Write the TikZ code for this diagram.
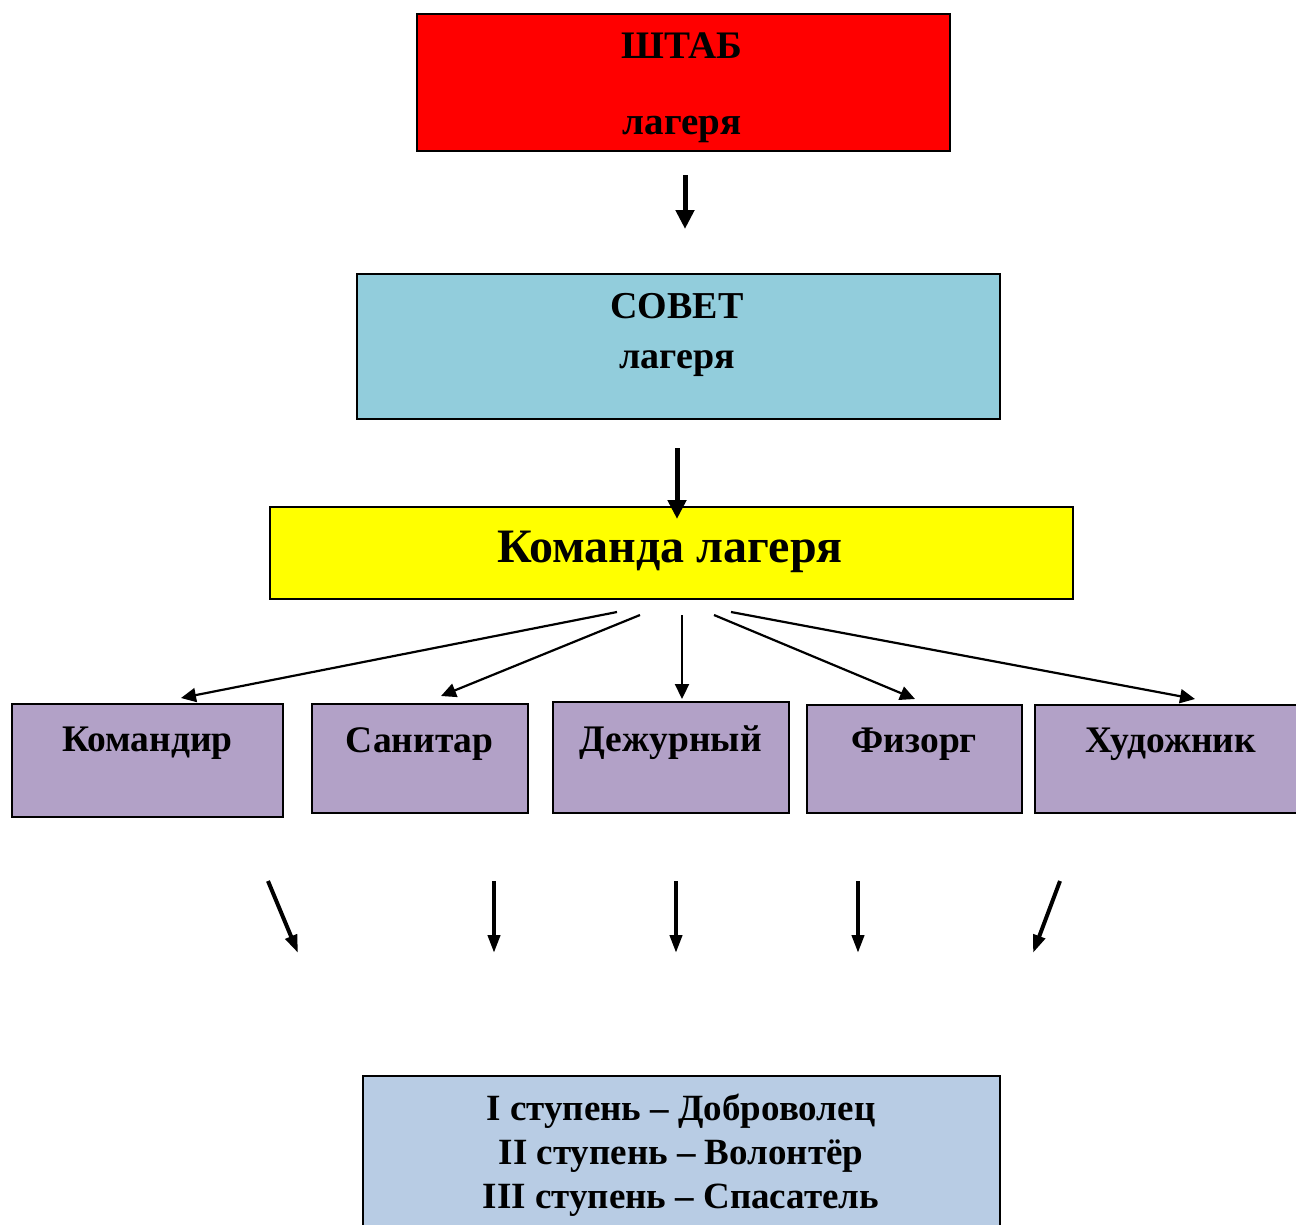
\documentclass[tikz,border=0pt]{standalone}
\usepackage{fontspec}
\setmainfont{Liberation Serif}
\usetikzlibrary{arrows.meta, positioning}
\definecolor{ShtabRed}{RGB}{255, 0, 0}
\definecolor{SovetBlue}{RGB}{146, 205, 220}
\definecolor{KomandaYellow}{RGB}{255, 255, 0}
\definecolor{RolePurple}{RGB}{178, 161, 199}
\definecolor{StepBlue}{RGB}{184, 204, 228}
\newcommand{\boxfont}[2]{\bfseries\fontsize{#1}{#2}\selectfont}

\begin{document}
\begin{tikzpicture}[x=1pt, y=-1pt,
        box/.style={draw=black, line width=1.5pt, inner sep=0pt, anchor=north west},
        boxtext/.style={align=center, inner sep=0pt},
        bigarrow/.style={-{Triangle[width=18pt, length=19pt]}, line width=5pt},
        downarrow/.style={-{Triangle[width=12pt, length=18pt]}, line width=4pt},
        fanarrow/.style={-{Triangle[width=14pt, length=15pt]}, line width=2.2pt}]
        \useasboundingbox (0, 0) rectangle (1296, 1224);

        % Top boxes
        \node[box, fill=ShtabRed, minimum width=533pt, minimum height=137pt] (shtab) at (416, 13) {};
        \node[boxtext, font=\boxfont{39}{39}] (shtabtext) at (682, 88) {ШТАБ\\[37pt]лагеря};

        \node[box, fill=SovetBlue, minimum width=643pt, minimum height=145pt] (sovet) at (356, 273) {};
        \node[boxtext, font=\boxfont{38}{50}] (sovettext) at (677, 335) {СОВЕТ\\лагеря};

        \node[box, fill=KomandaYellow, minimum width=803pt, minimum height=92pt] (komanda) at (269, 506) {};
        \node[boxtext, font=\boxfont{48}{48}] (komandatext) at (670, 552) {Команда лагеря};

        % Arrows between the top boxes
        \coordinate (shtabout) at (685, 175);
        \coordinate (sovetin) at (685, 229);
        \coordinate (sovetout) at (677, 448);
        \coordinate (komandain) at (677, 519);
        \draw[bigarrow] (shtabout) -- (sovetin);
        \draw[bigarrow] (sovetout) -- (komandain);

        % Role boxes
        \foreach \name/\x/\y/\w/\h/\txt in {komandir/11/703/271/113/Командир,
                sanitar/311/703/216/109/Санитар, dezhurny/552/701/236/111/Дежурный,
                fizorg/806/704/215/108/Физорг, hudozhnik/1034/704/272/108/Художник} {
            \node[box, fill=RolePurple, minimum width=\w pt, minimum height=\h pt] (\name) at (\x, \y) {};
            \node[boxtext, font=\boxfont{37.5}{37.5}, below=24pt of \name.north] (\name text) {\txt};
        }

        % Fan of arrows from the team box
        \foreach \name/\sx/\sy/\ex/\ey in {komandir/617/612/181/698, sanitar/640/615/441/696,
                dezhurny/682/615/682/699, fizorg/714/615/915/699, hudozhnik/731/612/1195/699} {
            \coordinate (\name from) at (\sx, \sy);
            \coordinate (\name to) at (\ex, \ey);
            \draw[fanarrow] (\name from) -- (\name to);
        }

        % Arrows down to the steps
        \foreach \name/\sx/\ex in {komandir/268/298, sanitar/494/494, dezhurny/676/676,
                fizorg/858/858, hudozhnik/1060/1033} {
            \coordinate (\name down) at (\sx, 881);
            \coordinate (\name step) at (\ex, 953);
            \draw[downarrow] (\name down) -- (\name step);
        }

        % Steps box
        \node[box, fill=StepBlue, minimum width=637pt, minimum height=160pt] (steps) at (362, 1075) {};
        \node[boxtext, font=\boxfont{37}{44}] (stepstext) at (681, 1155) {I ступень – Доброволец\\II ступень – Волонтёр\\III ступень – Спасатель};
    \end{tikzpicture}
\end{document}
